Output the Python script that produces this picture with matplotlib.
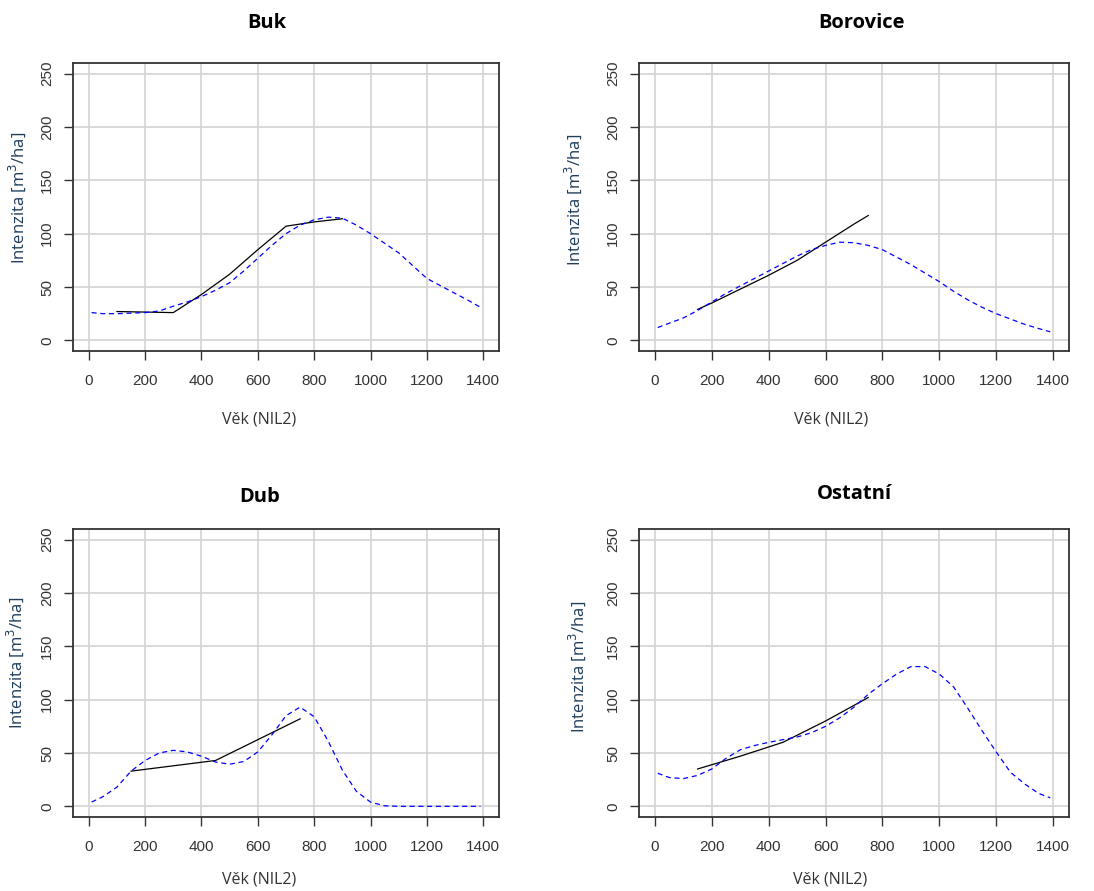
import matplotlib
matplotlib.use("Agg")
import matplotlib.pyplot as plt

# ---------------- data ----------------
titles = ["Buk", "Borovice", "Dub", "Ostatní"]

buk_obs_x = [100, 300, 400, 500, 600, 700, 800, 900]
buk_obs_y = [27, 26, 43, 62, 85, 107, 111, 114]
buk_fit_x = [10, 50, 100, 150, 200, 250, 300, 350, 400, 450, 500, 550, 600, 650, 700,
             750, 800, 850, 900, 950, 1000, 1050, 1100, 1150, 1200, 1250, 1300, 1350, 1390]
buk_fit_y = [26, 25, 25, 25.5, 26, 27.5, 32, 36, 41, 47, 54, 65, 77, 89, 100,
             108, 113, 115.5, 114.5, 108, 100, 91, 82, 70, 58, 51, 44, 37, 31]

bor_obs_x = [150, 200, 300, 400, 500, 600, 700, 750]
bor_obs_y = [29, 35, 48, 61, 75, 92, 109, 117]
bor_fit_x = [10, 50, 100, 150, 200, 250, 300, 350, 400, 450, 500, 550, 600, 650, 700,
             750, 800, 850, 900, 950, 1000, 1050, 1100, 1150, 1200, 1250, 1300, 1350, 1390]
bor_fit_y = [12, 16, 21, 28, 36, 44, 51, 58, 65, 72, 79, 85, 89, 92, 91.5,
             89, 85, 78, 71, 63, 55, 46, 38, 31, 25, 20, 15, 11, 8]

dub_obs_x = [150, 450, 750]
dub_obs_y = [33, 43, 82]
dub_fit_x = [10, 50, 100, 150, 200, 250, 300, 350, 400, 450, 500, 550, 600, 650, 700,
             750, 800, 850, 900, 950, 1000, 1050, 1100, 1150, 1200, 1250, 1300, 1350, 1390]
dub_fit_y = [4, 9, 18, 33, 43, 50, 52.5, 51, 47, 41.5, 39.5, 42, 51, 67, 85,
             93, 84, 61, 34, 14, 4, 0.5, 0, 0, 0, 0, 0, 0, 0]

ost_obs_x = [150, 300, 450, 600, 750]
ost_obs_y = [35, 47, 60, 80, 102]
ost_fit_x = [10, 50, 100, 150, 200, 250, 300, 350, 400, 450, 500, 550, 600, 650, 700,
             750, 800, 850, 900, 950, 1000, 1050, 1100, 1150, 1200, 1250, 1300, 1350, 1390]
ost_fit_y = [31, 27, 26, 29, 35, 45, 53, 57, 60, 62.5, 65, 69, 75, 83, 93,
             105, 115, 124, 131, 131, 124, 112, 92, 71, 51, 32, 21, 12, 8]

x_ticks = [0, 200, 400, 600, 800, 1000, 1200, 1400]
y_ticks = [0, 50, 100, 150, 200, 250]
x_label = "Věk (NIL2)"
y_label = "Intenzita [m$^3$/ha]"

obs = [(buk_obs_x, buk_obs_y), (bor_obs_x, bor_obs_y), (dub_obs_x, dub_obs_y), (ost_obs_x, ost_obs_y)]
fits = [(buk_fit_x, buk_fit_y), (bor_fit_x, bor_fit_y), (dub_fit_x, dub_fit_y), (ost_fit_x, ost_fit_y)]

# ---------------- layout ----------------
W, H = 1094, 891
fig = plt.figure(figsize=(W / 100, H / 100), dpi=100)

boxes = [(73, 63, 426, 288), (639, 63, 430, 288), (73, 529, 426, 288), (639, 529, 430, 288)]
title_cx = [267, 862, 260, 854]      # title centre (px)
title_base = [28, 28, 502, 499]      # title baseline (px from top)
xlab_cx = [259, 831, 259, 830]
xlab_cy = [420, 420, 879, 879]
ylab_cx = [17, 573, 15, 577]
ylab_frac = [0.533, 0.524, 0.536, 0.52]

tick_font = ["Liberation Sans", "DejaVu Sans"]
lab_font = ["Open Sans", "DejaVu Sans"]

for i, (l, t, w, h) in enumerate(boxes):
    ax = fig.add_axes([l / W, 1 - (t + h) / H, w / W, h / H])
    ax.set_xlim(-56, 1456)
    ax.set_ylim(-10, 260)
    ax.set_xticks(x_ticks)
    ax.set_yticks(y_ticks)
    ax.grid(True, color="#d3d3d3", linewidth=1.2, zorder=0)
    ax.set_axisbelow(True)

    fx, fy = fits[i]
    ox, oy = obs[i]
    ax.plot(ox, oy, color="black", linewidth=0.9, zorder=3)
    ax.plot(fx, fy, color="#0000ff", linewidth=0.9, linestyle=(0, (4, 3)), zorder=4)

    for s in ax.spines.values():
        s.set_color("#333333")
        s.set_linewidth(1.3)
    ax.tick_params(axis="both", direction="out", length=6.5, width=1.0, color="#333333",
                   labelcolor="#333333", labelsize=11)
    ax.tick_params(axis="x", pad=10)
    ax.tick_params(axis="y", pad=7)
    for lab in ax.get_xticklabels():
        lab.set_family(tick_font)
    for lab in ax.get_yticklabels():
        lab.set_family(tick_font)
        lab.set_rotation(90)
        lab.set_va("center")

    ax.set_title(titles[i], fontsize=14.5, fontweight="bold", family=lab_font,
                 x=(title_cx[i] - l) / w, y=1 + (t - title_base[i]) / h, pad=0,
                 va="baseline")

    ax.set_xlabel(x_label, fontsize=11.5, family=lab_font, color="#333333")
    ax.xaxis.set_label_coords((xlab_cx[i] - l) / w, -(xlab_cy[i] - (t + h)) / h,
                              transform=ax.transAxes)
    ax.xaxis.label.set_va("center")
    ax.set_ylabel(y_label, fontsize=12, family=lab_font, color="#1f3d5c")
    ax.yaxis.set_label_coords(-(l - ylab_cx[i]) / w, ylab_frac[i], transform=ax.transAxes)
    ax.yaxis.label.set_va("center")

fig.savefig("out.png", dpi=100, facecolor="white")
